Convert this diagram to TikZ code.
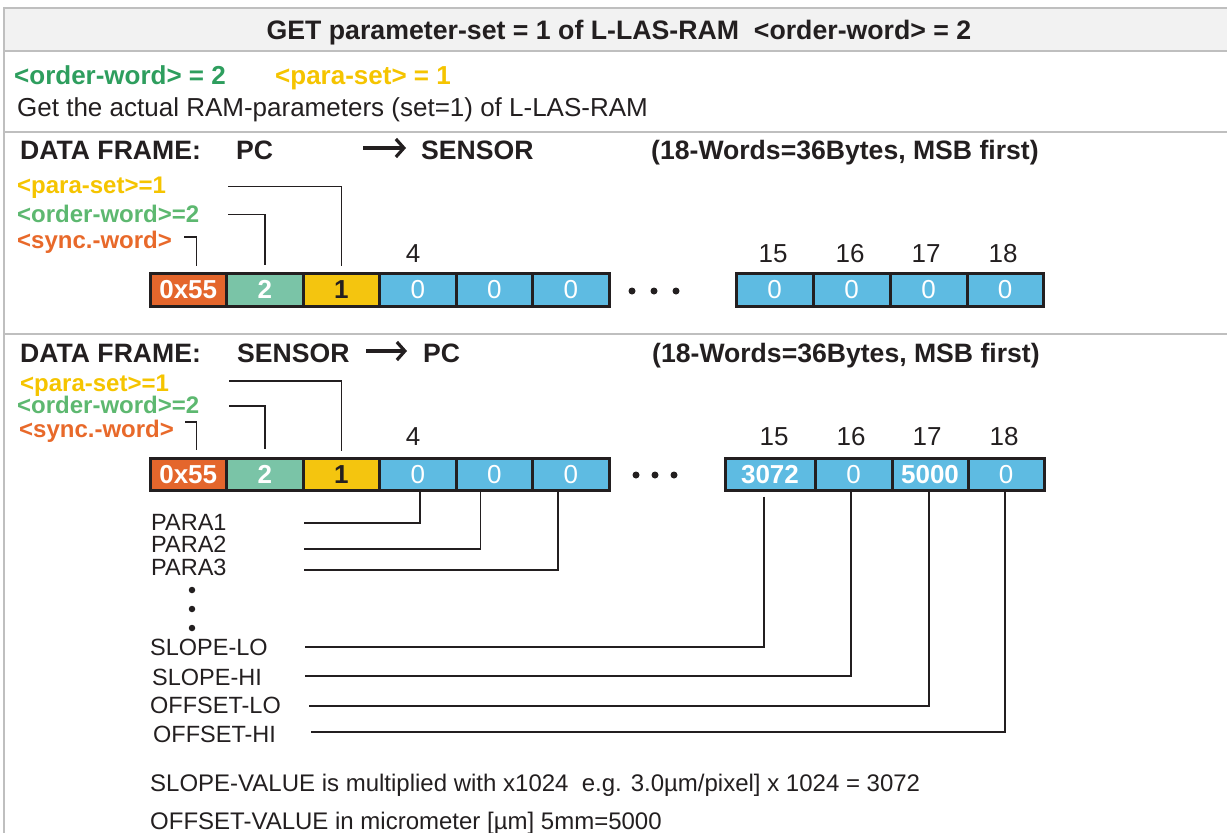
\documentclass[tikz,border=0pt]{standalone}
\usepackage{fontspec}
\setmainfont{Liberation Sans}
\usetikzlibrary{arrows.meta}
\definecolor{grayline}{HTML}{BFBFBF}
\definecolor{headfill}{HTML}{F2F2F2}
\definecolor{ink}{HTML}{231F20}
\definecolor{dkgreen}{HTML}{2E9E5E}
\definecolor{ltgreen}{HTML}{5DB870}
\definecolor{yel}{HTML}{F5C400}
\definecolor{org}{HTML}{E8692A}
\definecolor{cellorg}{HTML}{E4662C}
\definecolor{cellgrn}{HTML}{7AC4A7}
\definecolor{cellyel}{HTML}{F4C50F}
\definecolor{cellblu}{HTML}{5EBBE2}
\begin{document}
\begin{tikzpicture}[x=1pt,y=-1pt,
  txt/.style={inner sep=0pt, anchor=west, text depth=0pt, text=ink},
  big/.style={font=\fontsize{26}{30}\selectfont, text height=18.6pt},
  bigb/.style={font=\fontsize{26}{30}\selectfont\bfseries, text height=18.6pt},
  headb/.style={font=\fontsize{26.7}{30}\selectfont\bfseries, text height=19.1pt},
  titleb/.style={font=\fontsize{26.6}{30}\selectfont\bfseries, text height=19pt},
  lab/.style={font=\fontsize{24}{28}\selectfont\bfseries, text height=17.2pt},
  small/.style={font=\fontsize{23.5}{28}\selectfont, text height=16.8pt},
  note/.style={font=\fontsize{24}{28}\selectfont, text height=17.2pt},
  cell/.style={draw=ink, line width=3pt, inner sep=0pt, text height=18.6pt, text depth=0pt,
    font=\fontsize{26}{30}\selectfont, text=white},
  cbold/.style={font=\fontsize{26}{30}\selectfont\bfseries},
  conn/.style={draw=ink, line width=1.5pt},
  bigarrow/.style={draw=ink, line width=3.2pt, -{Straight Barb[length=8pt,width=18pt]}},
  frame/.style={draw=grayline, line width=2.5pt},
  dot/.style={fill=ink, circle, inner sep=0pt, minimum size=7pt}
]
\useasboundingbox (0,0) rectangle (1227,833);

% ---- table frame ----
\fill[headfill] (4,8) rectangle (1227,51);
\draw[frame] (4,8) -- (1227,8);
\draw[frame] (4,51) -- (1227,51);
\draw[frame] (4,132) -- (1227,132);
\draw[frame] (4,334) -- (1227,334);
\draw[frame] (4,6.75) -- (4,833);

% ---- header ----
\node[txt, headb, anchor=center] (head) at (619,30) {GET parameter-set = 1 of L-LAS-RAM\ \ <order-word> = 2};
\node[txt, bigb, text=dkgreen] (ow) at (14,75) {<order-word> = 2};
\node[txt, bigb, text=yel] (ps) at (275,75) {<para-set> = 1};
\node[txt, big] (desc) at (17,107) {Get the actual RAM-parameters (set=1) of L-LAS-RAM};

% ---- section 1: PC -> SENSOR ----
\node[txt, titleb] (df1) at (20,150) {DATA FRAME:};
\node[txt, titleb] (pc1) at (236,150) {PC};
\coordinate (ar1s) at (363,148);
\coordinate (ar1e) at (406,148);
\draw[bigarrow] (ar1s) -- (ar1e);
\node[txt, titleb] (sen1) at (421,150) {SENSOR};
\node[txt, titleb] (len1) at (651,150) {(18-Words=36Bytes, MSB first)};

\node[txt, lab, text=yel] (l1p) at (17,185) {<para-set>=1};
\node[txt, lab, text=ltgreen] (l1o) at (17,214) {<order-word>=2};
\node[txt, lab, text=org] (l1s) at (17,240) {<sync.-word>};

\node[cell, cbold, fill=cellorg, minimum width=76.5pt, minimum height=33pt] (a1) at (188.25,289.5) {0x55};
\node[cell, cbold, fill=cellgrn, minimum width=76.5pt, minimum height=33pt] (a2) at (264.75,289.5) {2};
\node[cell, cbold, fill=cellyel, text=ink, minimum width=76.5pt, minimum height=33pt] (a3) at (341.25,289.5) {1};
\node[cell, fill=cellblu, minimum width=76.5pt, minimum height=33pt] (a4) at (417.75,289.5) {0};
\node[cell, fill=cellblu, minimum width=76.5pt, minimum height=33pt] (a5) at (494.25,289.5) {0};
\node[cell, fill=cellblu, minimum width=76.5pt, minimum height=33pt] (a6) at (570.75,289.5) {0};
\node[cell, fill=cellblu, minimum width=77pt, minimum height=33pt] (a15) at (774.5,289.5) {0};
\node[cell, fill=cellblu, minimum width=77pt, minimum height=33pt] (a16) at (851.5,289.5) {0};
\node[cell, fill=cellblu, minimum width=77pt, minimum height=33pt] (a17) at (928.5,289.5) {0};
\node[cell, fill=cellblu, minimum width=76pt, minimum height=33pt] (a18) at (1005,289.5) {0};

\node[txt, big, anchor=center] (n1a) at (413,253) {4};
\node[txt, big, anchor=center] (n1b) at (773,253) {15};
\node[txt, big, anchor=center] (n1c) at (850,253) {16};
\node[txt, big, anchor=center] (n1d) at (926,253) {17};
\node[txt, big, anchor=center] (n1e) at (1003,253) {18};

\node[dot] (d1a) at (632,291) {};
\node[dot] (d1b) at (654,291) {};
\node[dot] (d1c) at (676,291) {};

\coordinate (c1p) at (228,186.5);
\coordinate (c1o) at (228,214.5);
\coordinate (c1s) at (184,237);
\draw[conn, shorten >=6pt] (c1p) -| (a3.north);
\draw[conn, shorten >=7pt] (c1o) -| (a2.north);
\draw[conn, shorten >=6pt] (c1s) -| ([xshift=8pt]a1.north);

% ---- section 2: SENSOR -> PC ----
\node[txt, titleb] (df2) at (20,353) {DATA FRAME:};
\node[txt, titleb] (sen2) at (237,353) {SENSOR};
\coordinate (ar2s) at (366,351);
\coordinate (ar2e) at (407,351);
\draw[bigarrow] (ar2s) -- (ar2e);
\node[txt, titleb] (pc2) at (423,353) {PC};
\node[txt, titleb] (len2) at (652,353) {(18-Words=36Bytes, MSB first)};

\node[txt, lab, text=yel] (l2p) at (20,383) {<para-set>=1};
\node[txt, lab, text=ltgreen] (l2o) at (17,405) {<order-word>=2};
\node[txt, lab, text=org] (l2s) at (19,428.5) {<sync.-word>};

\node[cell, cbold, fill=cellorg, minimum width=76.5pt, minimum height=32pt] (b1) at (188.25,474) {0x55};
\node[cell, cbold, fill=cellgrn, minimum width=76.5pt, minimum height=32pt] (b2) at (264.75,474) {2};
\node[cell, cbold, fill=cellyel, text=ink, minimum width=76.5pt, minimum height=32pt] (b3) at (341.25,474) {1};
\node[cell, fill=cellblu, minimum width=76.5pt, minimum height=32pt] (b4) at (417.75,474) {0};
\node[cell, fill=cellblu, minimum width=76.5pt, minimum height=32pt] (b5) at (494.25,474) {0};
\node[cell, fill=cellblu, minimum width=76.5pt, minimum height=32pt] (b6) at (570.75,474) {0};
\node[cell, cbold, fill=cellblu, minimum width=90pt, minimum height=32pt] (b15) at (770,474) {3072};
\node[cell, fill=cellblu, minimum width=77pt, minimum height=32pt] (b16) at (853.5,474) {0};
\node[cell, cbold, fill=cellblu, minimum width=76pt, minimum height=32pt] (b17) at (930,474) {5000};
\node[cell, fill=cellblu, minimum width=76pt, minimum height=32pt] (b18) at (1006,474) {0};

\node[txt, big, anchor=center] (n2a) at (413,436) {4};
\node[txt, big, anchor=center] (n2b) at (774,436) {15};
\node[txt, big, anchor=center] (n2c) at (851,436) {16};
\node[txt, big, anchor=center] (n2d) at (927,436) {17};
\node[txt, big, anchor=center] (n2e) at (1004,436) {18};

\node[dot] (d2a) at (636,475) {};
\node[dot] (d2b) at (655,475) {};
\node[dot] (d2c) at (674,475) {};

\coordinate (c2p) at (229,381);
\coordinate (c2o) at (229,406);
\coordinate (c2s) at (185,422);
\draw[conn, shorten >=6pt] (c2p) -| (b3.north);
\draw[conn, shorten >=8pt] (c2o) -| (b2.north);
\draw[conn, shorten >=7pt] (c2s) -| ([xshift=8pt]b1.north);

% ---- parameter labels ----
\node[txt, small] (pa1) at (151,522) {PARA1};
\node[txt, small] (pa2) at (151,544) {PARA2};
\node[txt, small] (pa3) at (151,567) {PARA3};
\node[dot, minimum size=6.5pt] (v1) at (192,590) {};
\node[dot, minimum size=6.5pt] (v2) at (192,609) {};
\node[dot, minimum size=6.5pt] (v3) at (192,628) {};
\node[txt, small] (slo) at (150,647) {SLOPE-LO};
\node[txt, small] (shi) at (152,677) {SLOPE-HI};
\node[txt, small] (olo) at (150,705) {OFFSET-LO};
\node[txt, small] (ohi) at (153,734) {OFFSET-HI};

\coordinate (e1) at (304,523);
\coordinate (e2) at (304,549);
\coordinate (e3) at (304,570);
\coordinate (e4) at (305,647);
\coordinate (e5) at (305,676);
\coordinate (e6) at (309,706);
\coordinate (e7) at (311,732);
\draw[conn] ([xshift=2pt]b4.south) |- (e1);
\draw[conn] ([xshift=-14pt]b5.south) |- (e2);
\draw[conn] ([xshift=-13pt]b6.south) |- (e3);
\draw[conn, shorten <=5pt] ([xshift=-6pt]b15.south) |- (e4);
\draw[conn] ([xshift=-2.5pt]b16.south) |- (e5);
\draw[conn] ([xshift=-1pt]b17.south) |- (e6);
\draw[conn] ([xshift=-1pt]b18.south) |- (e7);

% ---- notes ----
\node[txt, note] (nt1) at (150,783) {SLOPE-VALUE is multiplied with x1024\ \ e.g. 3.0µm/pixel] x 1024 = 3072};
\node[txt, note] (nt2) at (150,821) {OFFSET-VALUE in micrometer [µm] 5mm=5000};
\end{tikzpicture}
\end{document}
